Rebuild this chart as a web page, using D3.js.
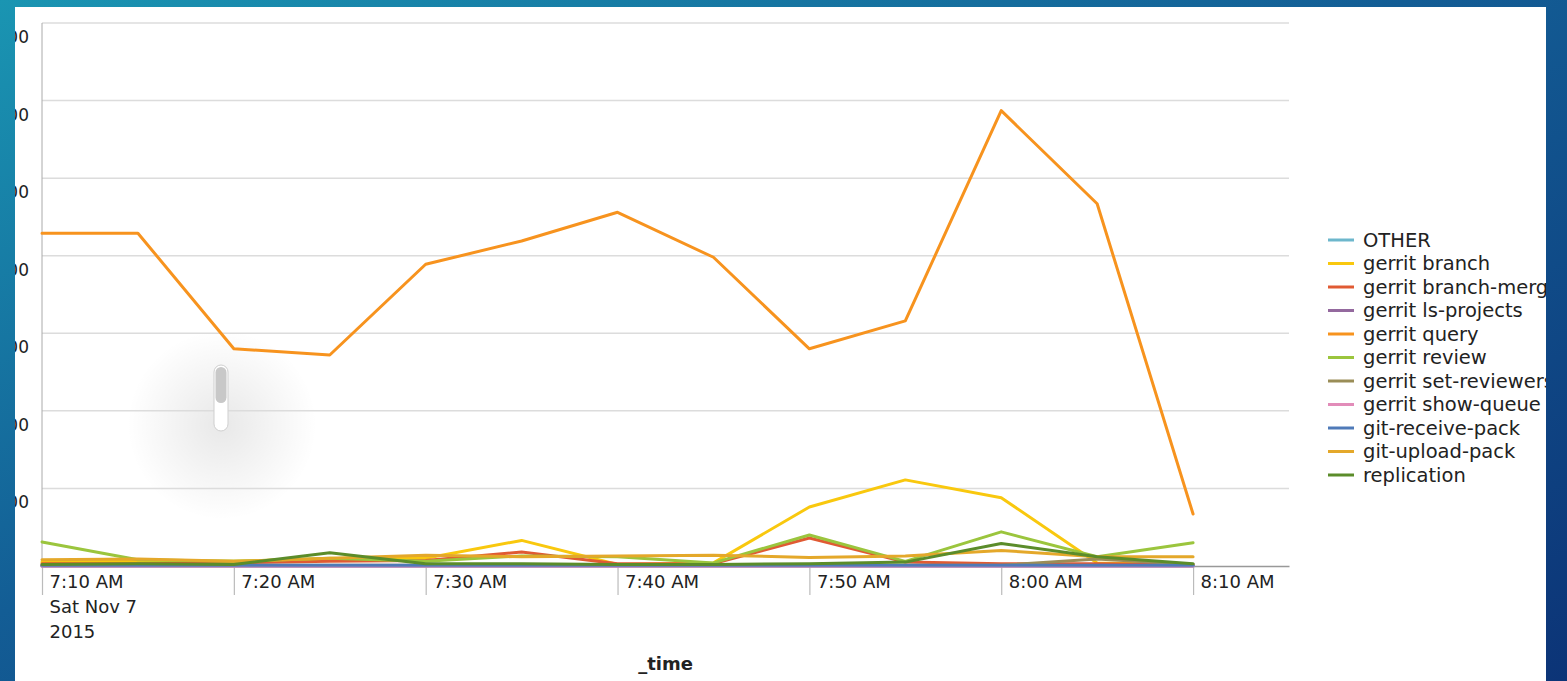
<!DOCTYPE html>
<html>
<head>
<meta charset="utf-8">
<script src="https://cdn.jsdelivr.net/npm/d3@7"></script>
<style>
  html, body { margin: 0; padding: 0; overflow: hidden; }
  svg { display: block; font-family: "DejaVu Sans", sans-serif; }
</style>
</head>
<body>
<svg id="chart" width="1567" height="681"></svg>
<script>
// 5-minute buckets
const times = ["07:10", "07:15", "07:20", "07:25", "07:30", "07:35", "07:40",
               "07:45", "07:50", "07:55", "08:00", "08:05", "08:10"];

const seriesNames = ["OTHER", "gerrit branch", "gerrit branch-merge", "gerrit ls-projects",
  "gerrit query", "gerrit review", "gerrit set-reviewers", "gerrit show-queue",
  "git-receive-pack", "git-upload-pack", "replication"];

const seriesColors = ["#6db7cc", "#f9c80e", "#e05a33", "#94699e", "#f7931e", "#9bc53d",
  "#9a8d57", "#e28cb9", "#4f7ab8", "#e4a82a", "#5b8c2a"];

const otherVals        = [0, 0, 0, 0, 0, 0, 0, 0, 0, 0, 0, 0, 0];
const branchVals       = [5, 6, 6, 9, 10, 33, 2, 4, 76, 111, 88, 4, 2];
const branchMergeVals  = [3, 3, 4, 6, 7, 18, 3, 3, 36, 5, 3, 3, 2];
const lsProjectsVals   = [0, 0, 0, 0, 0, 0, 0, 0, 0, 0, 0, 0, 0];
const queryVals        = [429, 429, 280, 272, 389, 419, 456, 398, 280, 316, 587, 467, 67];
const reviewVals       = [31, 8, 6, 10, 6, 13, 12, 4, 40, 6, 44, 12, 30];
const setReviewersVals = [1, 1, 1, 1, 1, 1, 1, 1, 1, 1, 1, 9, 2];
const showQueueVals    = [0, 0, 0, 0, 0, 0, 0, 0, 0, 0, 0, 0, 0];
const receivePackVals  = [1, 1, 1, 1, 1, 1, 1, 1, 1, 1, 1, 1, 1];
const uploadPackVals   = [8, 9, 6, 10, 14, 12, 13, 14, 11, 13, 20, 12, 12];
const replicationVals  = [2, 3, 2, 17, 3, 3, 2, 2, 3, 5, 29, 12, 3];

const seriesValues = [otherVals, branchVals, branchMergeVals, lsProjectsVals, queryVals,
  reviewVals, setReviewersVals, showQueueVals, receivePackVals, uploadPackVals, replicationVals];

const yTicks = [100, 200, 300, 400, 500, 600, 700];

// ---- layout ----
const W = 1567, H = 681;
const panel = { x: 15, y: 7, w: 1531, h: 674 };
const plot = { left: 42, right: 1289, top: 23, bottom: 566 };

const parseT = d3.timeParse("%Y-%m-%d %H:%M");
const dates = times.map(t => parseT("2015-11-07 " + t));

const x = d3.scaleTime()
  .domain([parseT("2015-11-07 07:10"), parseT("2015-11-07 08:15")])
  .range([plot.left, plot.right]);
const y = d3.scaleLinear().domain([0, 700]).range([plot.bottom, plot.top]);

const svg = d3.select("#chart");
const defs = svg.append("defs");

const bg = defs.append("linearGradient").attr("id", "bg")
  .attr("x1", 0).attr("y1", 0).attr("x2", 1).attr("y2", 1);
bg.append("stop").attr("offset", "0%").attr("stop-color", "#1a95b2");
bg.append("stop").attr("offset", "45%").attr("stop-color", "#135d95");
bg.append("stop").attr("offset", "100%").attr("stop-color", "#0c3477");

const shadow = defs.append("radialGradient").attr("id", "shadow");
shadow.append("stop").attr("offset", "0%").attr("stop-color", "#000").attr("stop-opacity", 0.09);
shadow.append("stop").attr("offset", "100%").attr("stop-color", "#000").attr("stop-opacity", 0);

defs.append("clipPath").attr("id", "panelClip")
  .append("rect").attr("x", panel.x).attr("y", panel.y).attr("width", panel.w).attr("height", panel.h);

svg.append("rect").attr("width", W).attr("height", H).attr("fill", "url(#bg)");
svg.append("rect").attr("x", panel.x).attr("y", panel.y).attr("width", panel.w).attr("height", panel.h)
  .attr("fill", "#fff");

const g = svg.append("g").attr("clip-path", "url(#panelClip)");

// cursor shadow artifact
g.append("circle").attr("cx", 222).attr("cy", 425).attr("r", 95).attr("fill", "url(#shadow)");

// gridlines
g.append("g")
  .selectAll("line")
  .data(yTicks)
  .join("line")
    .attr("x1", plot.left).attr("x2", plot.right)
    .attr("y1", d => y(d)).attr("y2", d => y(d))
    .attr("stroke", "#dcdcdc").attr("stroke-width", 1.5);

// y labels (cut by panel edge, as in the screenshot)
g.append("g")
  .attr("text-anchor", "end")
  .attr("font-size", 17)
  .attr("fill", "#222")
  .selectAll("text")
  .data(yTicks)
  .join("text")
    .attr("x", 29)
    .attr("y", d => y(d) + 20)
    .text(d => d);

// y axis line
g.append("line")
  .attr("x1", plot.left).attr("x2", plot.left)
  .attr("y1", plot.top).attr("y2", plot.bottom)
  .attr("stroke", "#aaa").attr("stroke-width", 1);

// x axis
const xAxis = d3.axisBottom(x)
  .ticks(d3.timeMinute.every(10))
  .tickSizeInner(29)
  .tickSizeOuter(0)
  .tickPadding(0)
  .tickFormat(d3.timeFormat("%-I:%M %p"));

const ax = g.append("g")
  .attr("transform", `translate(0,${plot.bottom})`)
  .call(xAxis);
ax.select(".domain").attr("stroke", "#999").attr("stroke-width", 1.5);
ax.selectAll(".tick line").attr("stroke", "#bbb").attr("stroke-width", 1.2);
ax.selectAll(".tick text")
  .attr("text-anchor", "start")
  .attr("x", 7)
  .attr("y", 0)
  .attr("dy", "22px")
  .attr("font-size", 18)
  .attr("font-family", "DejaVu Sans, sans-serif")
  .attr("fill", "#222")
  .each(function(d, i) {
    if (i === 0) {
      const t = d3.select(this);
      t.append("tspan").attr("x", 7).attr("dy", 25).text(d3.timeFormat("%a %b %-d")(d));
      t.append("tspan").attr("x", 7).attr("dy", 25).text(d3.timeFormat("%Y")(d));
    }
  });

// axis title
g.append("text")
  .attr("x", (plot.left + plot.right) / 2)
  .attr("y", 670)
  .attr("text-anchor", "middle")
  .attr("font-size", 18)
  .attr("font-weight", "bold")
  .attr("fill", "#222")
  .text("_time");

// lines
const line = d3.line()
  .x((d, i) => x(dates[i]))
  .y(d => y(d));

g.append("g")
  .attr("fill", "none")
  .attr("stroke-width", 3)
  .attr("stroke-linejoin", "round")
  .attr("stroke-linecap", "round")
  .selectAll("path")
  .data(seriesValues)
  .join("path")
    .attr("stroke", (d, i) => seriesColors[i])
    .attr("d", line);

// scroll indicator artifact
const ind = g.append("g").attr("transform", "translate(214,365)");
ind.append("rect").attr("width", 14).attr("height", 66).attr("rx", 7)
  .attr("fill", "#fff").attr("stroke", "#cfcfcf");
ind.append("rect").attr("x", 1.5).attr("y", 2).attr("width", 11).attr("height", 36).attr("rx", 5.5)
  .attr("fill", "#c8c8c8");

// legend (long names run into the panel edge)
const legend = g.append("g")
  .selectAll("g")
  .data(seriesNames)
  .join("g")
    .attr("transform", (d, i) => `translate(1328,${240 + i * 23.5})`);
legend.append("line")
  .attr("x1", 0).attr("x2", 26)
  .attr("stroke", (d, i) => seriesColors[i])
  .attr("stroke-width", 3);
legend.append("text")
  .attr("x", 35)
  .attr("dy", "0.35em")
  .attr("font-size", 19.5)
  .attr("fill", "#222")
  .text(d => d);
</script>
</body>
</html>
